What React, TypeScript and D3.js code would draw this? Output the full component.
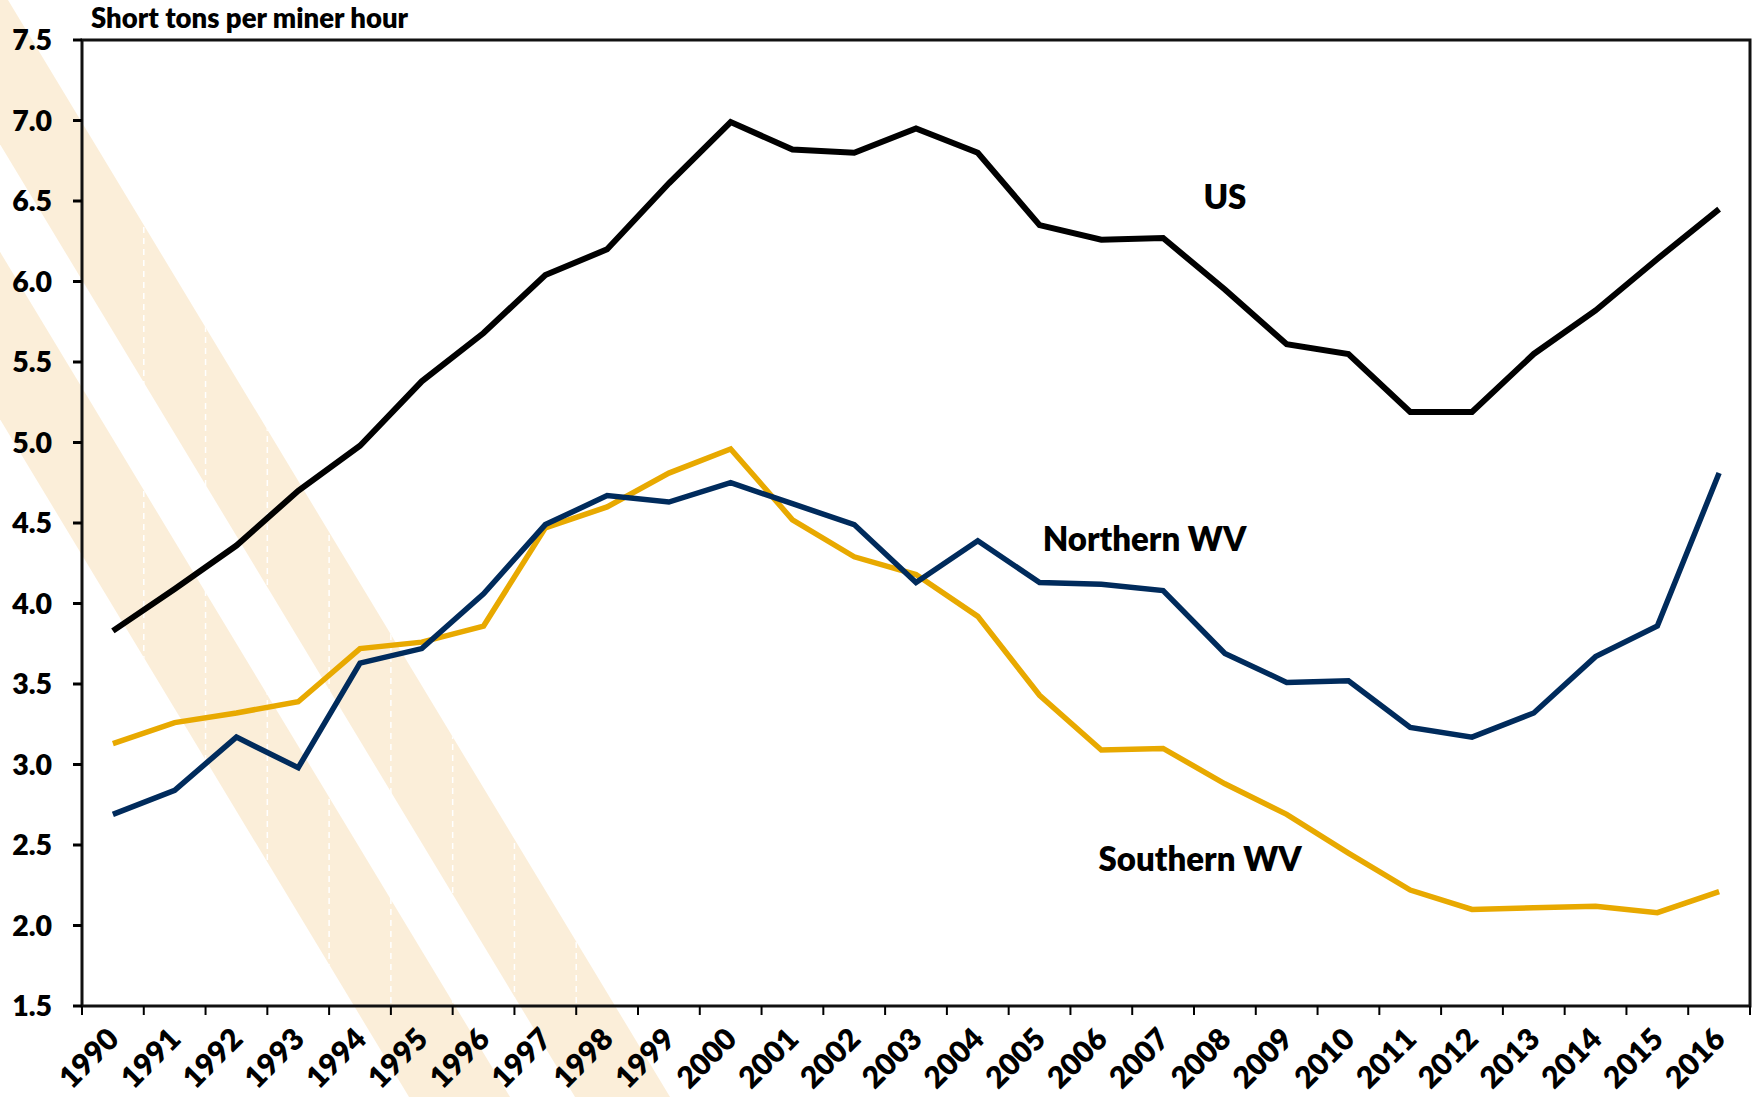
import React, { useEffect, useRef } from 'react';
import * as d3 from 'd3';

const years = [
  '1990', '1991', '1992', '1993', '1994', '1995', '1996', '1997', '1998', '1999',
  '2000', '2001', '2002', '2003', '2004', '2005', '2006', '2007', '2008', '2009',
  '2010', '2011', '2012', '2013', '2014', '2015', '2016',
];

const usValues = [
  3.83, 4.09, 4.36, 4.70, 4.98, 5.38, 5.68, 6.04, 6.20, 6.61,
  6.99, 6.82, 6.80, 6.95, 6.80, 6.35, 6.26, 6.27, 5.95, 5.61,
  5.55, 5.19, 5.19, 5.55, 5.82, 6.14, 6.45,
];

const northernValues = [
  2.69, 2.84, 3.17, 2.98, 3.63, 3.72, 4.06, 4.49, 4.67, 4.63,
  4.75, 4.62, 4.49, 4.13, 4.39, 4.13, 4.12, 4.08, 3.69, 3.51,
  3.52, 3.23, 3.17, 3.32, 3.67, 3.86, 4.81,
];

const southernValues = [
  3.13, 3.26, 3.32, 3.39, 3.72, 3.76, 3.86, 4.47, 4.60, 4.81,
  4.96, 4.52, 4.29, 4.18, 3.92, 3.43, 3.09, 3.10, 2.88, 2.69,
  2.45, 2.22, 2.10, 2.11, 2.12, 2.08, 2.21,
];

const yTicks = [1.5, 2.0, 2.5, 3.0, 3.5, 4.0, 4.5, 5.0, 5.5, 6.0, 6.5, 7.0, 7.5];

const series = [
  { name: 'US', values: usValues, color: '#000000' },
  { name: 'Northern WV', values: northernValues, color: '#002b5c' },
  { name: 'Southern WV', values: southernValues, color: '#e8a900' },
];

// label anchors in data units: [position along x in categories, value]
const seriesLabels = [
  { text: 'US', at: 18.5, value: 6.52 },
  { text: 'Northern WV', at: 17.2, value: 4.4 },
  { text: 'Southern WV', at: 18.1, value: 2.41 },
];

const W = 1756;
const H = 1097;
const FONT = 'Lato, "Open Sans", sans-serif';

const App: React.FC = () => {
  const svgRef = useRef<SVGSVGElement>(null);

  useEffect(() => {
    if (!svgRef.current) return;
    const svg = d3.select(svgRef.current);
    svg.selectAll('*').remove();

    const margin = { top: 40, right: 6, bottom: 91, left: 82 };
    const left = margin.left;
    const right = W - margin.right;
    const top = margin.top;
    const bottom = H - margin.bottom;

    const x = d3.scaleBand<string>().domain(years).range([left, right]).padding(0);
    const y = d3.scaleLinear().domain([1.5, 7.5]).range([bottom, top]);
    const bw = x.bandwidth();
    const cx = (yr: string) => (x(yr) as number) + bw / 2;

    // decorative diagonal stripes in the background
    const k = 1.657;
    const stripes = [[-87, 8], [-253, -152]];
    const stripeColor = '#fbeed9';
    const bg = svg.append('g');
    stripes.forEach(([a, b]) => {
      const pts = [[a, 0], [b, 0], [b + H / k, H], [a + H / k, H]];
      bg.append('polygon')
        .attr('points', pts.map(p => p.join(',')).join(' '))
        .attr('fill', stripeColor);
    });

    const defs = svg.append('defs');
    const clip = defs.append('clipPath').attr('id', 'stripeClip');
    const a0 = stripes[1][0];
    const b0 = stripes[0][1];
    clip.append('polygon')
      .attr('points', [[a0, 0], [b0, 0], [b0 + H / k, H], [a0 + H / k, H]].map(p => p.join(',')).join(' '));

    const dash = svg.append('g').attr('clip-path', 'url(#stripeClip)');
    years.slice(1).forEach(yr => {
      const xx = x(yr) as number;
      dash.append('line')
        .attr('x1', xx).attr('x2', xx)
        .attr('y1', top).attr('y2', bottom)
        .attr('stroke', '#ffffff')
        .attr('stroke-width', 1.5)
        .attr('stroke-dasharray', '6,5');
    });

    // frame
    svg.append('rect')
      .attr('x', left).attr('y', top)
      .attr('width', right - left).attr('height', bottom - top)
      .attr('fill', 'none')
      .attr('stroke', '#111')
      .attr('stroke-width', 3);

    // y ticks + labels
    const yg = svg.append('g');
    yTicks.forEach(v => {
      yg.append('line')
        .attr('x1', left - 9).attr('x2', left)
        .attr('y1', y(v)).attr('y2', y(v))
        .attr('stroke', '#000').attr('stroke-width', 3);
      yg.append('text')
        .attr('x', 52)
        .attr('y', y(v))
        .attr('dy', '0.36em')
        .attr('text-anchor', 'end')
        .attr('font-family', FONT)
        .attr('font-weight', 800)
        .attr('font-size', 28.5)
        .attr('fill', '#000')
        .text(d3.format('.1f')(v));
    });

    // x ticks at category boundaries + rotated labels
    const xg = svg.append('g');
    const edges = years.map(yr => x(yr) as number).concat([right]);
    edges.forEach(e => {
      xg.append('line')
        .attr('x1', e).attr('x2', e)
        .attr('y1', bottom).attr('y2', bottom + 9)
        .attr('stroke', '#000').attr('stroke-width', 2);
    });
    years.forEach(yr => {
      const tx = cx(yr) + 8;
      const ty = bottom + 35;
      xg.append('text')
        .attr('transform', `translate(${tx},${ty}) rotate(-45)`)
        .attr('text-anchor', 'end')
        .attr('font-family', FONT)
        .attr('font-weight', 800)
        .attr('font-size', 30)
        .attr('fill', '#000')
        .text(yr);
    });

    // axis title
    svg.append('text')
      .attr('x', 91)
      .attr('y', 28)
      .attr('font-family', FONT)
      .attr('font-weight', 800)
      .attr('font-size', 27.5)
      .attr('fill', '#000')
      .text('Short tons per miner hour');

    // lines
    const line = d3.line<number>()
      .x((d, i) => cx(years[i]))
      .y(d => y(d));

    const order = [series[2], series[1], series[0]];
    order.forEach(s => {
      svg.append('path')
        .datum(s.values)
        .attr('fill', 'none')
        .attr('stroke', s.color)
        .attr('stroke-width', s.name === 'US' ? 6 : 5.5)
        .attr('stroke-linejoin', 'miter')
        .attr('d', line);
    });

    // series labels
    seriesLabels.forEach(l => {
      svg.append('text')
        .attr('x', left + l.at * bw)
        .attr('y', y(l.value))
        .attr('dy', '0.35em')
        .attr('text-anchor', 'middle')
        .attr('font-family', FONT)
        .attr('font-weight', 800)
        .attr('font-size', 33)
        .attr('fill', '#000')
        .text(l.text);
    });
  }, []);

  return (
    <svg
      ref={svgRef}
      width={W}
      height={H}
      style={{ position: 'absolute', left: 0, top: 0, background: '#fff' }}
    />
  );
};

export default App;
